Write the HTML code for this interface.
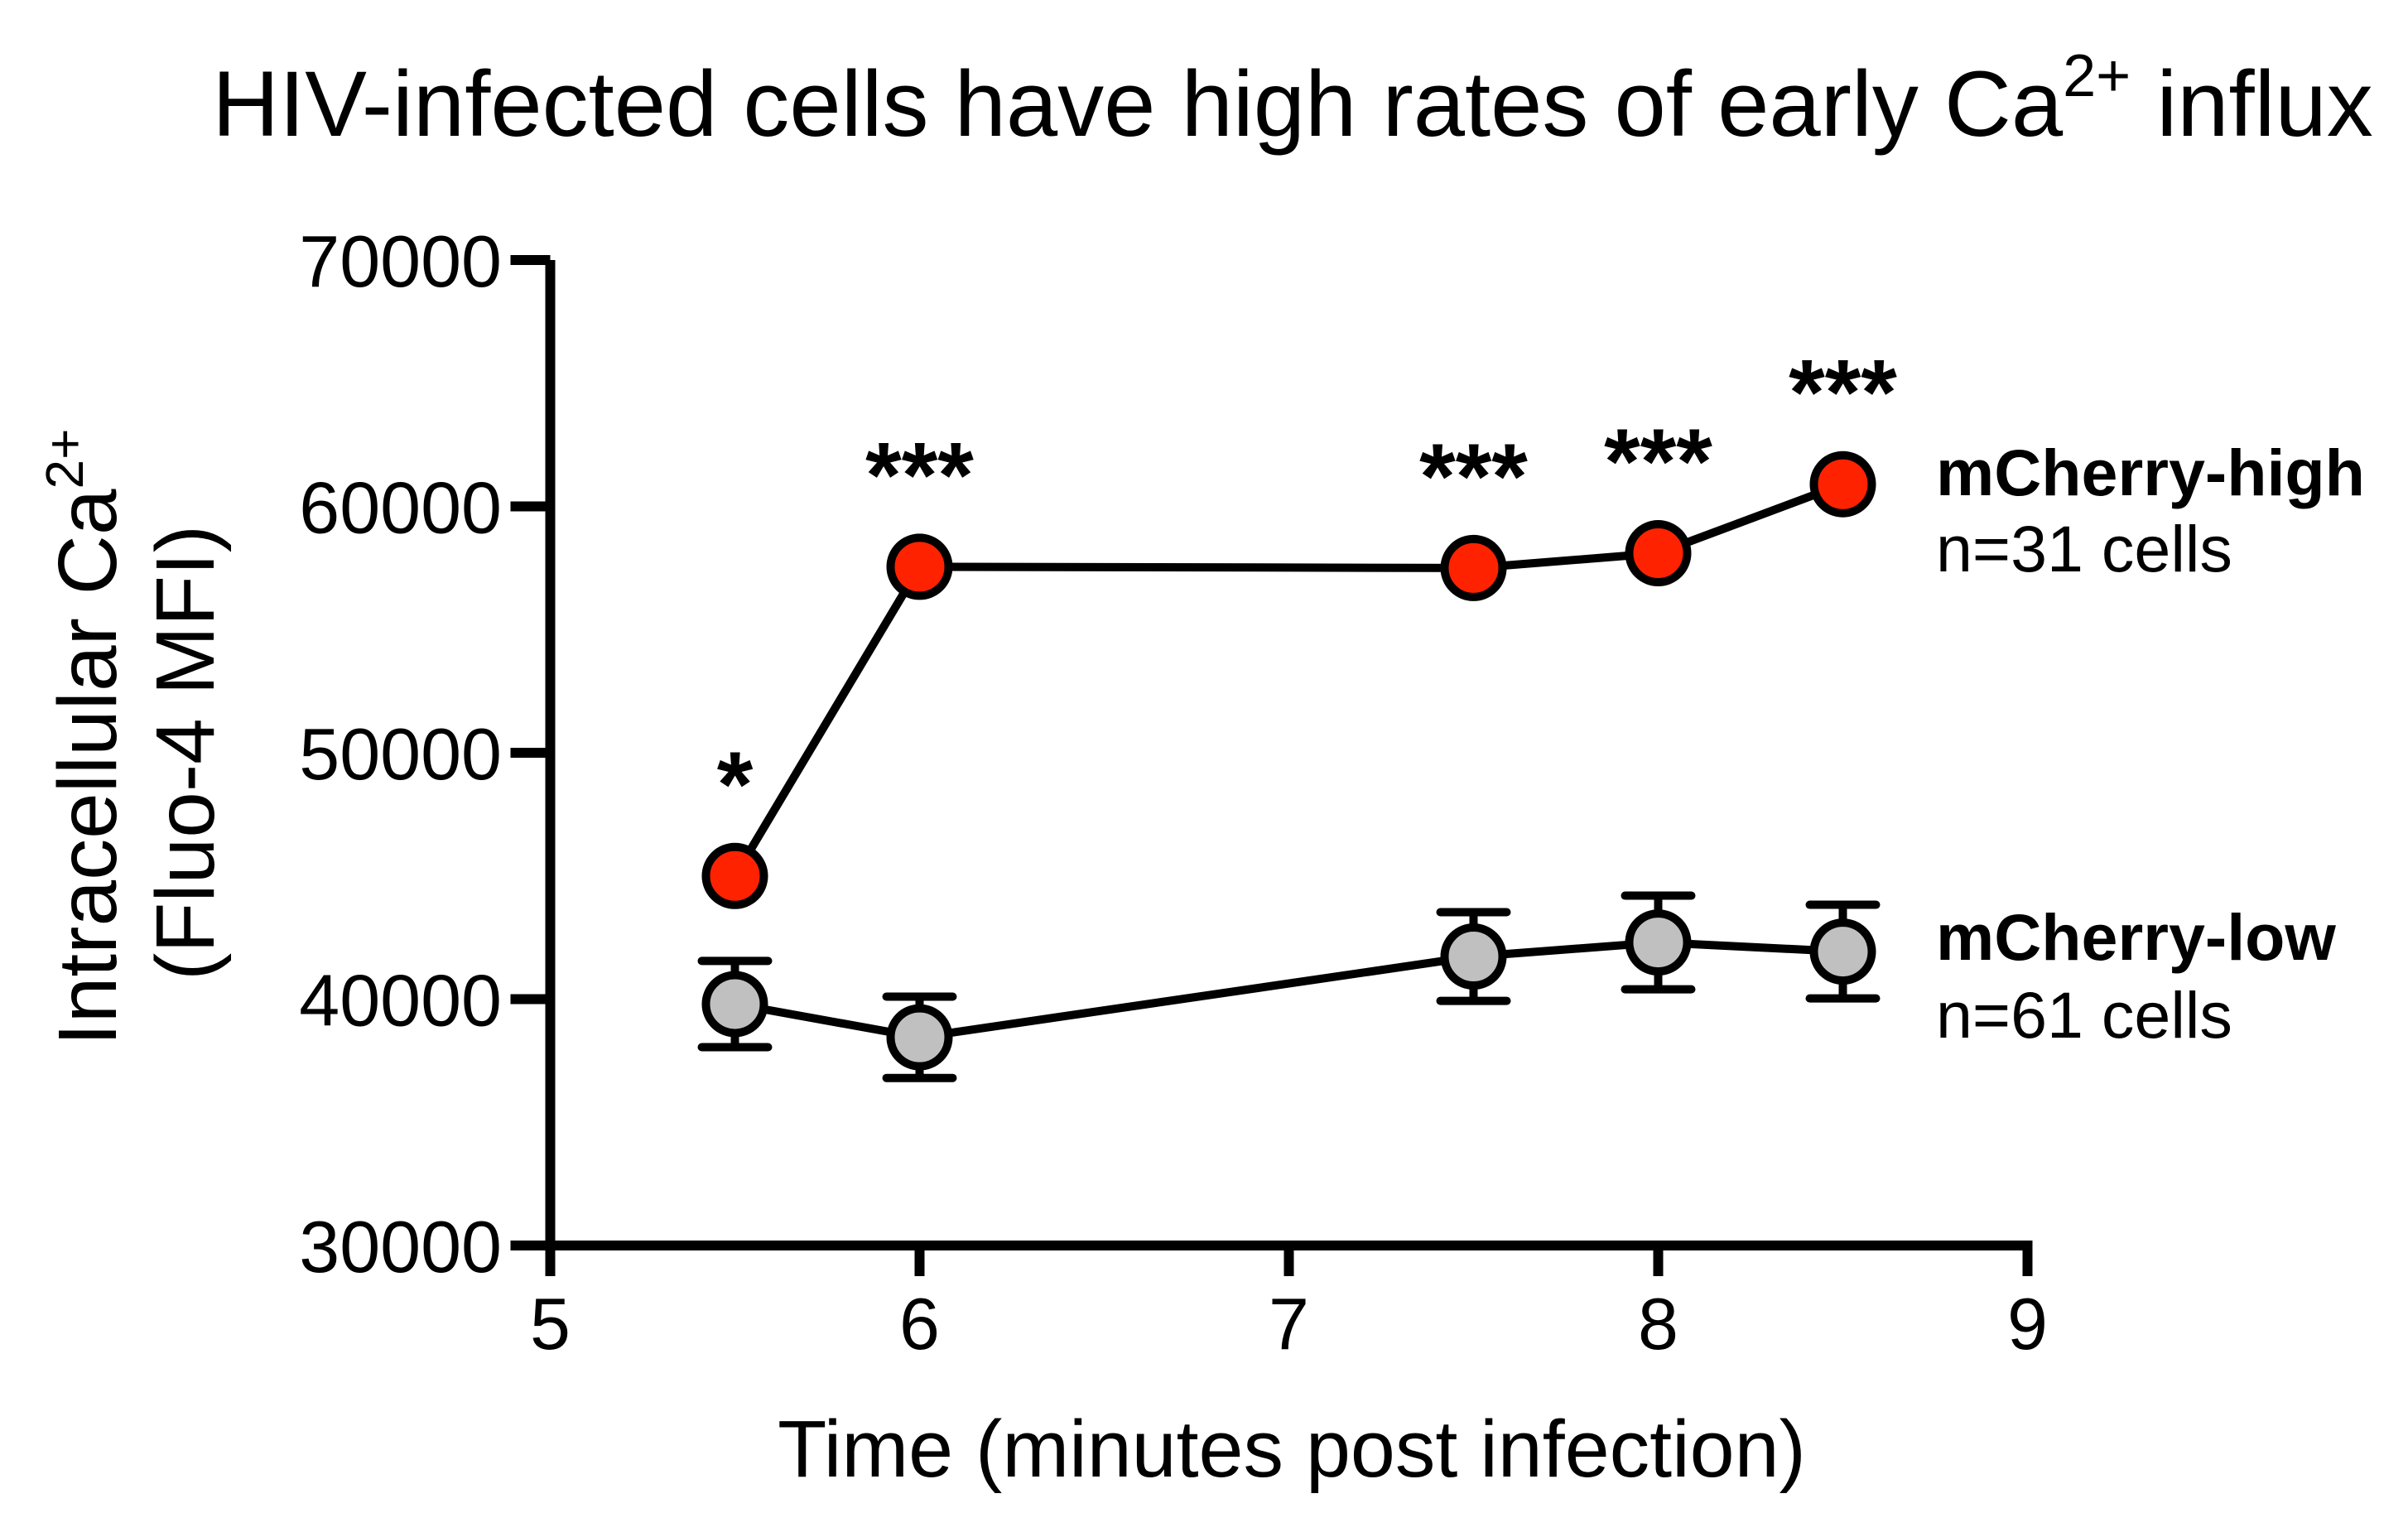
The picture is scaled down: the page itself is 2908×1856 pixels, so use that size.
<!DOCTYPE html>
<html><head><meta charset="utf-8"><style>
html,body{margin:0;padding:0;background:#fff}
svg{display:block}
text{font-family:"Liberation Sans",Arial,sans-serif;fill:#000}
</style></head><body>
<svg id="chart" width="2908" height="1856" viewBox="0 0 2908 1856" xmlns="http://www.w3.org/2000/svg">
<text x="1561" y="164" font-size="112" text-anchor="middle">HIV-infected cells have high rates of early Ca<tspan dy="-48" font-size="72">2+</tspan><tspan dy="48"> influx</tspan></text>
<g>
<text transform="translate(140,1263) rotate(-90)" font-size="100">Intracellular Ca<tspan dy="-40" font-size="64">2+</tspan></text>
<text transform="translate(258,909) rotate(-90)" font-size="100" text-anchor="middle">(Fluo-4 MFI)</text>
</g>
<text x="1560" y="1783" font-size="97" text-anchor="middle">Time (minutes post infection)</text>
<g id="axes"></g>
<g id="marks"></g>
<g>
<text x="2338" y="598" font-size="79" font-weight="bold">mCherry-high</text>
<text x="2338" y="690" font-size="79">n=31 cells</text>
<text x="2338" y="1159" font-size="79" font-weight="bold">mCherry-low</text>
<text x="2338" y="1253" font-size="79">n=61 cells</text>
</g>
</svg>
<script>
const times = [5.5, 6, 7.5, 8, 8.5];
const highValues = [45000, 57550, 57500, 58100, 60900];
const lowValues = [39800, 38450, 41730, 42300, 41930];
const lowErrors = [1750, 1650, 1800, 1900, 1900];
const stars = ["*", "***", "***", "***", "***"];
const xTicks = [5, 6, 7, 8, 9];
const yTicks = [30000, 40000, 50000, 60000, 70000];

const NS = "http://www.w3.org/2000/svg";
const X0 = 664.5, XS = 446, Y0 = 1504, YS = 0.02975;
const xs = v => X0 + (v - 5) * XS;
const ys = v => Y0 - (v - 30000) * YS;
function mk(tag, attrs, parent) {
  const e = document.createElementNS(NS, tag);
  for (const k in attrs) e.setAttribute(k, attrs[k]);
  parent.appendChild(e);
  return e;
}
const axes = document.getElementById('axes');
const marks = document.getElementById('marks');

let yl = mk('line', {x1: X0, y1: ys(70000), x2: X0, y2: Y0 + 6, stroke: '#000', 'stroke-width': 12}, axes);


let xl = mk('line', {x1: X0 - 6, y1: Y0, x2: xs(9) + 6, y2: Y0, stroke: '#000', 'stroke-width': 12}, axes);



yTicks.forEach(v => {
  const t = mk('line', {x1: X0 - 48, y1: ys(v), x2: X0, y2: ys(v), stroke: '#000', 'stroke-width': 12}, axes);
  
  
  const l = mk('text', {x: 606, y: ys(v) + 32, 'font-size': 88, 'text-anchor': 'end'}, axes);
  l.textContent = v;
  
  
});
xTicks.forEach(v => {
  const t = mk('line', {x1: xs(v), y1: Y0, x2: xs(v), y2: 1541, stroke: '#000', 'stroke-width': 12}, axes);
  
  
  const l = mk('text', {x: xs(v), y: 1629, 'font-size': 88, 'text-anchor': 'middle'}, axes);
  l.textContent = v;
  
  
});

const lowLine = mk('polyline', {points: times.map((t, i) => xs(t) + ',' + ys(lowValues[i])).join(' '), fill: 'none', stroke: '#000', 'stroke-width': 10}, marks);


times.forEach((t, i) => {
  const x = xs(t), top = ys(lowValues[i] + lowErrors[i]), bot = ys(lowValues[i] - lowErrors[i]);
  const g = mk('g', {}, marks);
  
  
  mk('line', {x1: x, y1: top, x2: x, y2: bot, stroke: '#000', 'stroke-width': 10}, g);
  mk('line', {x1: x - 40, y1: top, x2: x + 40, y2: top, stroke: '#000', 'stroke-width': 10, 'stroke-linecap': 'round'}, g);
  mk('line', {x1: x - 40, y1: bot, x2: x + 40, y2: bot, stroke: '#000', 'stroke-width': 10, 'stroke-linecap': 'round'}, g);
  const c = mk('circle', {cx: x, cy: ys(lowValues[i]), r: 35, fill: '#c0c0c0', stroke: '#000', 'stroke-width': 10}, marks);
  
  
});

const highLine = mk('polyline', {points: times.map((t, i) => xs(t) + ',' + ys(highValues[i])).join(' '), fill: 'none', stroke: '#000', 'stroke-width': 10}, marks);


times.forEach((t, i) => {
  const c = mk('circle', {cx: xs(t), cy: ys(highValues[i]), r: 35, fill: '#ff2200', stroke: '#000', 'stroke-width': 10}, marks);
  
  
  const s = mk('text', {x: xs(t), y: ys(highValues[i]) - 72, 'font-size': 112, 'font-weight': 'bold', 'text-anchor': 'middle'}, marks);
  s.textContent = stars[i];
  
  
});
</script>
</body></html>
